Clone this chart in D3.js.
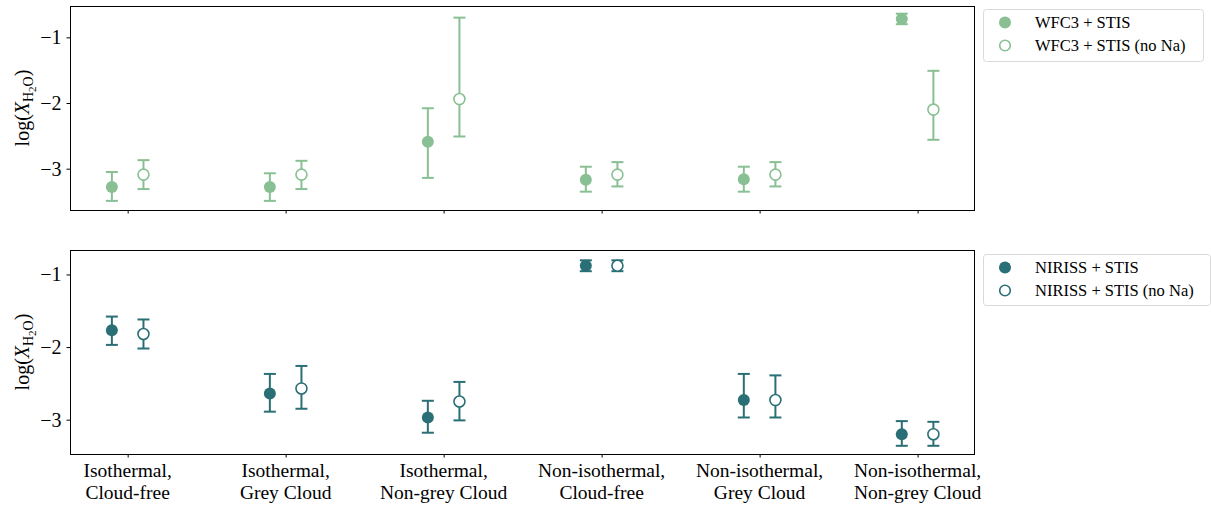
<!DOCTYPE html>
<html>
<head>
<meta charset="utf-8">
<script src="https://cdn.jsdelivr.net/npm/d3@7"></script>
<style>
  body { margin: 0; background: #fff; }
  text { font-family: "Liberation Serif", "DejaVu Serif", serif; fill: #000; }
</style>
</head>
<body>
<div id="chart"></div>
<script>
// categories on the x axis (two lines each)
const categories = [
  ["Isothermal,", "Cloud-free"],
  ["Isothermal,", "Grey Cloud"],
  ["Isothermal,", "Non-grey Cloud"],
  ["Non-isothermal,", "Cloud-free"],
  ["Non-isothermal,", "Grey Cloud"],
  ["Non-isothermal,", "Non-grey Cloud"]
];

// top panel: WFC3 + STIS  (value, upper, lower)
const wfc3Val = [-3.28, -3.28, -2.59, -3.17, -3.16, -0.72];
const wfc3Hi  = [-3.05, -3.07, -2.08, -2.97, -2.97, -0.64];
const wfc3Lo  = [-3.49, -3.49, -3.14, -3.35, -3.35, -0.80];
const wfc3NoNaVal = [-3.09, -3.09, -1.94, -3.09, -3.09, -2.10];
const wfc3NoNaHi  = [-2.87, -2.88, -0.70, -2.90, -2.90, -1.51];
const wfc3NoNaLo  = [-3.31, -3.31, -2.51, -3.27, -3.27, -2.56];

// bottom panel: NIRISS + STIS
const nirissVal = [-1.77, -2.64, -2.97, -0.88, -2.73, -3.20];
const nirissHi  = [-1.58, -2.37, -2.74, -0.805, -2.37, -3.02];
const nirissLo  = [-1.97, -2.89, -3.18, -0.955, -2.97, -3.36];
const nirissNoNaVal = [-1.82, -2.57, -2.75, -0.88, -2.73, -3.20];
const nirissNoNaHi  = [-1.62, -2.26, -2.48, -0.805, -2.39, -3.03];
const nirissNoNaLo  = [-2.02, -2.85, -3.01, -0.955, -2.97, -3.36];

const yTicks = [-1, -2, -3];

const green = "#89c093", teal = "#2a6f75";

const W = 1211, H = 505;
const plotLeft = 70, plotRight = 974;

const svg = d3.select("#chart").append("svg")
    .attr("width", W).attr("height", H);

const x = d3.scaleLinear()
    .domain([-0.365, 5.357])
    .range([plotLeft, plotRight]);

const offset = 0.1; // shift of the two series around each category

const panels = [
  { top: 6, bottom: 210, domain: [-3.629, -0.523], color: green, showLabels: false,
    series: [
      { name: "WFC3 + STIS", val: wfc3Val, hi: wfc3Hi, lo: wfc3Lo, open: false },
      { name: "WFC3 + STIS (no Na)", val: wfc3NoNaVal, hi: wfc3NoNaHi, lo: wfc3NoNaLo, open: true }
    ],
    legendBox: [983, 9, 220, 52] },
  { top: 250, bottom: 454, domain: [-3.473, -0.663], color: teal, showLabels: true,
    series: [
      { name: "NIRISS + STIS", val: nirissVal, hi: nirissHi, lo: nirissLo, open: false },
      { name: "NIRISS + STIS (no Na)", val: nirissNoNaVal, hi: nirissNoNaHi, lo: nirissNoNaLo, open: true }
    ],
    legendBox: [983, 254, 227, 51] }
];

panels.forEach(p => {
  const y = d3.scaleLinear().domain(p.domain).range([p.bottom, p.top]);
  const g = svg.append("g");

  // y axis
  const yAxis = g.append("g")
      .attr("transform", `translate(${plotLeft},0)`)
      .call(d3.axisLeft(y).tickValues(yTicks).tickSize(3.5).tickPadding(5)
            .tickFormat(d => "\u2212" + Math.abs(d)));
  yAxis.select(".domain").remove();
  yAxis.selectAll("text").style("font-size", "20px").attr("font-family", null);

  // x axis
  const xAxis = g.append("g")
      .attr("transform", `translate(0,${p.bottom})`)
      .call(d3.axisBottom(x).tickValues(d3.range(categories.length)).tickSize(3.5)
            .tickFormat(""));
  xAxis.select(".domain").remove();

  if (p.showLabels) {
    const lab = g.append("g").selectAll("text")
        .data(categories).join("text")
        .attr("text-anchor", "middle")
        .style("font-size", "19.5px");
    lab.append("tspan").attr("x", (d, i) => x(i)).attr("y", p.bottom + 23).text(d => d[0]);
    lab.append("tspan").attr("x", (d, i) => x(i)).attr("y", p.bottom + 45).text(d => d[1]);
  }

  // frame
  g.append("rect")
      .attr("x", plotLeft + 0.5).attr("y", p.top + 0.5)
      .attr("width", plotRight - plotLeft).attr("height", p.bottom - p.top)
      .attr("fill", "none").attr("stroke", "#000").attr("stroke-width", 1);

  // y label: log(X_H2O)
  const yl = g.append("text")
      .attr("transform", `translate(29,${(p.top + p.bottom) / 2}) rotate(-90)`)
      .attr("text-anchor", "middle")
      .style("font-size", "20px");
  yl.append("tspan").text("log(");
  yl.append("tspan").style("font-style", "italic").text("X");
  yl.append("tspan").attr("dy", 4).style("font-size", "14px").text("H");
  yl.append("tspan").attr("dy", 3).style("font-size", "11px").text("2");
  yl.append("tspan").attr("dy", -3).style("font-size", "14px").text("O");
  yl.append("tspan").attr("dy", -4).text(")");

  // error bars + markers
  p.series.forEach((s, si) => {
    const dx = si === 0 ? -offset : offset;
    const sg = g.append("g");
    const idx = d3.range(s.val.length);
    sg.selectAll("line.stem").data(idx).join("line")
        .attr("x1", i => x(i + dx)).attr("x2", i => x(i + dx))
        .attr("y1", i => y(s.hi[i])).attr("y2", i => y(s.lo[i]))
        .attr("stroke", p.color).attr("stroke-width", 2);
    ["hi", "lo"].forEach(k => {
      sg.selectAll("line.cap" + k).data(idx).join("line")
          .attr("x1", i => x(i + dx) - 6).attr("x2", i => x(i + dx) + 6)
          .attr("y1", i => y(s[k][i])).attr("y2", i => y(s[k][i]))
          .attr("stroke", p.color).attr("stroke-width", 2);
    });
    sg.selectAll("circle").data(idx).join("circle")
        .attr("cx", i => x(i + dx)).attr("cy", i => y(s.val[i]))
        .attr("r", s.open ? 5.5 : 6)
        .attr("fill", s.open ? "#fff" : p.color)
        .attr("stroke", s.open ? p.color : "none")
        .attr("stroke-width", 1.6);
  });

  // legend
  const [lx, ly, lw, lh] = p.legendBox;
  const lg = svg.append("g");
  lg.append("rect")
      .attr("x", lx + 0.5).attr("y", ly + 0.5).attr("width", lw).attr("height", lh)
      .attr("rx", 3).attr("fill", "#fff").attr("stroke", "#d9d9d9");
  p.series.forEach((s, si) => {
    const cy = ly + 13.5 + si * 23;
    lg.append("circle")
        .attr("cx", lx + 22).attr("cy", cy).attr("r", s.open ? 5.3 : 6)
        .attr("fill", s.open ? "#fff" : p.color)
        .attr("stroke", s.open ? p.color : "none").attr("stroke-width", 1.6);
    lg.append("text")
        .attr("x", lx + 52).attr("y", cy + 5)
        .style("font-size", "16.5px")
        .text(s.name);
  });
});
</script>
</body>
</html>
